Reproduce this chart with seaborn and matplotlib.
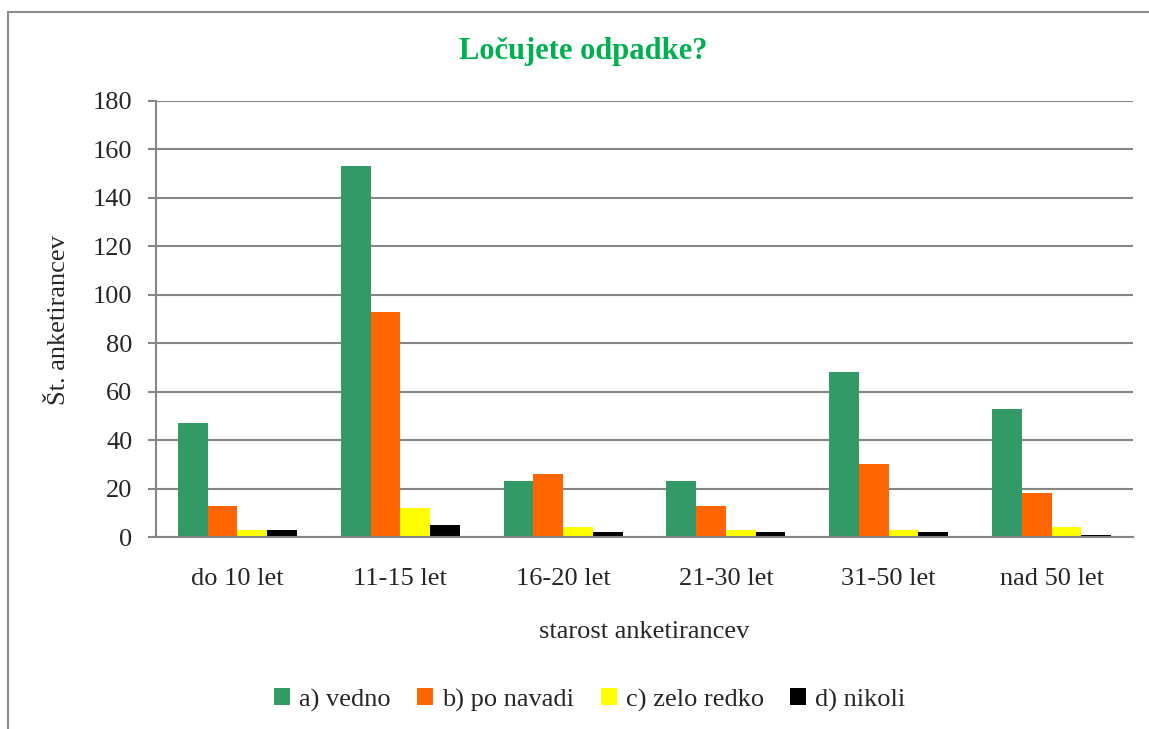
import pandas as pd
import matplotlib
matplotlib.use("Agg")
import matplotlib.pyplot as plt
import seaborn as sns
from matplotlib.patches import Rectangle

# data
categories = ["do 10 let", "11-15 let", "16-20 let", "21-30 let", "31-50 let", "nad 50 let"]
series_names = ["a) vedno", "b) po navadi", "c) zelo redko", "d) nikoli"]
vedno = [47, 153, 23, 23, 68, 53]
po_navadi = [13, 93, 26, 13, 30, 18]
zelo_redko = [3, 12, 4, 3, 3, 4]
nikoli = [3, 5, 2, 2, 2, 1]
colors = ["#339966", "#FF6600", "#FFFF00", "#000000"]

rows = []
for name, vals in zip(series_names, [vedno, po_navadi, zelo_redko, nikoli]):
    for cat, v in zip(categories, vals):
        rows.append({"starost": cat, "odgovor": name, "st": v})
df = pd.DataFrame(rows)

sns.set_theme(style="white")
plt.rcParams["font.family"] = ["Liberation Serif", "DejaVu Serif"]

fig = plt.figure(figsize=(11.49, 7.29), dpi=100)
ax = fig.add_axes([156 / 1149, 1 - 537 / 729, (1133 - 156) / 1149, (537 - 101) / 729])

sns.barplot(data=df, x="starost", y="st", hue="odgovor", order=categories,
            hue_order=series_names, palette=colors, width=0.73, saturation=1,
            edgecolor="none", ax=ax)

grey = "#868686"
ax.set_ylim(0, 180)
ax.set_yticks(range(0, 181, 20))
ax.yaxis.grid(True, color=grey, linewidth=1.5)
ax.set_axisbelow(True)
for s in ["top", "right"]:
    ax.spines[s].set_visible(False)
for s in ["left", "bottom"]:
    ax.spines[s].set_color(grey)
    ax.spines[s].set_linewidth(1.5)
ax.tick_params(axis="y", length=6, width=1.5, color=grey, labelsize=19, pad=11, left=True)
ax.tick_params(axis="x", length=0, labelsize=19, pad=22)
ax.set_xlim(-0.5, len(categories) - 0.5)

ax.set_xlabel("starost anketirancev", fontsize=19, labelpad=23)
ax.set_ylabel("Št. anketirancev", fontsize=19)
ax.yaxis.set_label_coords(70 / 1149, 1 - 320 / 729, transform=fig.transFigure)

fig.text(583 / 1149, 1 - 52 / 729, "Ločujete odpadke?", ha="center", va="center",
         fontsize=22, fontweight="bold", color="#00B050")

handles, labels = ax.get_legend_handles_labels()
ax.legend(handles, labels, loc="center", bbox_to_anchor=(590 / 1149, 1 - 700 / 729),
          bbox_transform=fig.transFigure, ncol=4, frameon=False, fontsize=19,
          handlelength=0.6, handleheight=0.6, handletextpad=0.35, columnspacing=1.0)

# outer chart border
fig.patches.append(Rectangle((8 / 1149, -0.05), 1.2, 1 - 12 / 729 + 0.05,
                             transform=fig.transFigure, fill=False,
                             edgecolor="#8c8c8c", linewidth=1.5))

fig.savefig("out.png", dpi=100)
